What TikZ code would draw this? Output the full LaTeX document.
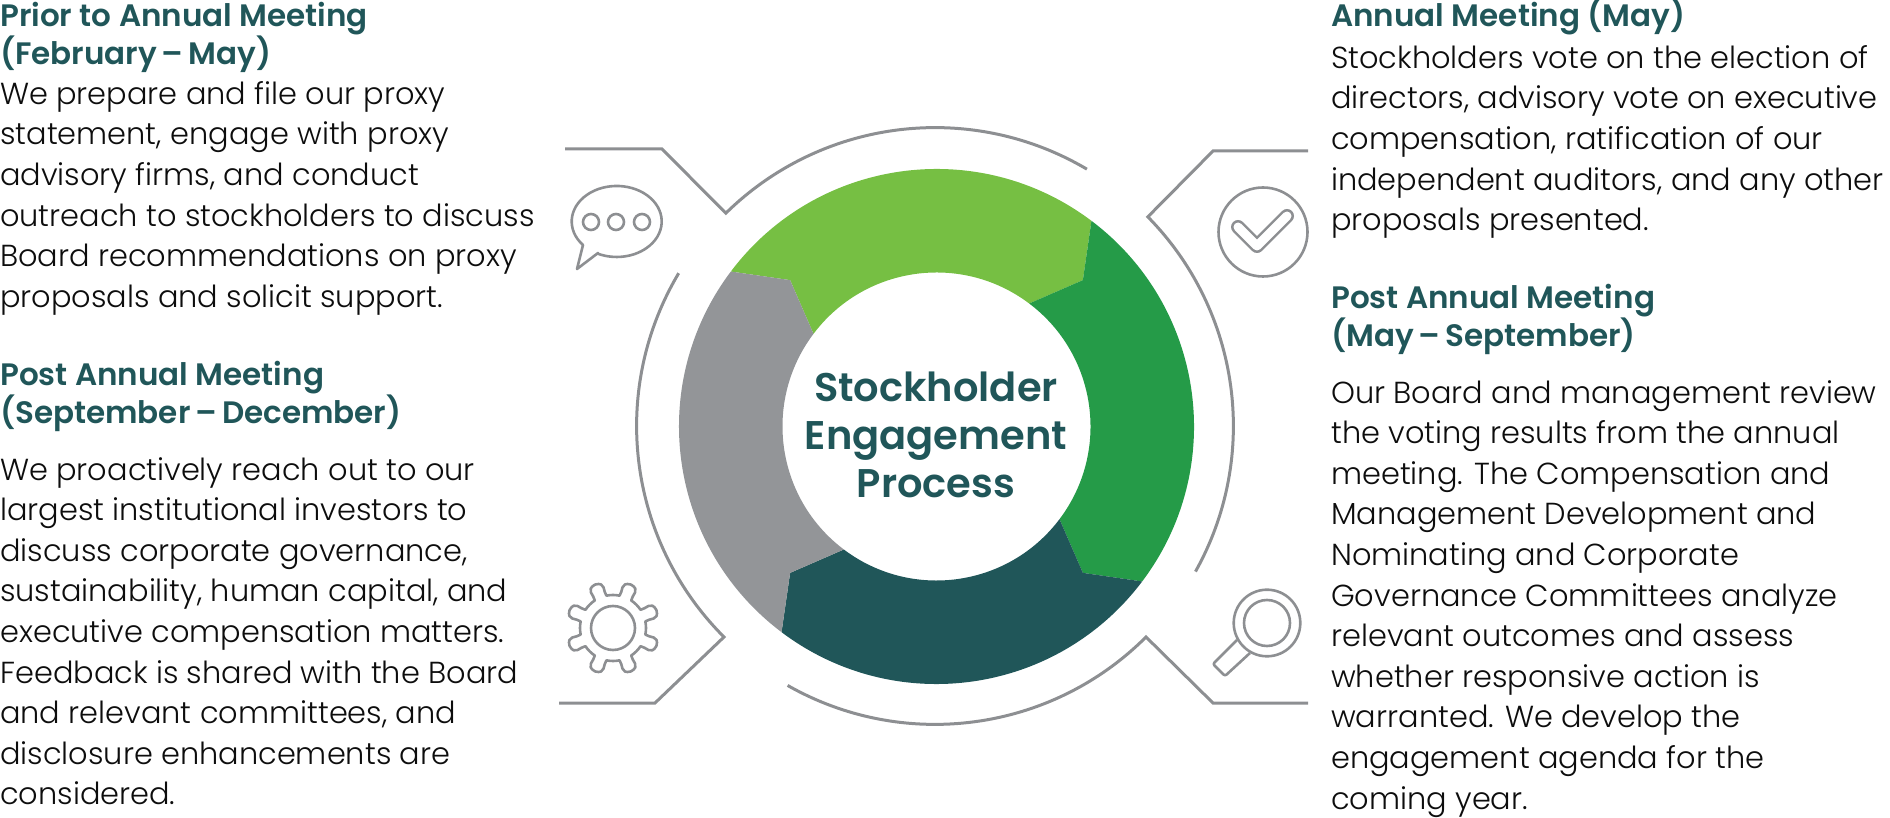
\documentclass[tikz,border=0pt]{standalone}
\usepackage{fontspec}
\usepackage{xcolor}
\setmainfont{Poppins Light}[BoldFont=Poppins SemiBold]
\usetikzlibrary{calc}
\definecolor{ringlime}{HTML}{76BF43}
\definecolor{ringgreen}{HTML}{259B48}
\definecolor{ringteal}{HTML}{205659}
\definecolor{ringgray}{HTML}{939598}
\definecolor{linegray}{HTML}{8D8F92}
\newcommand{\spandash}{\kern-2.5pt–\kern-2.5pt}
\tikzset{
  bodytext/.style={anchor=north west, inner sep=0pt, align=left, text=black!95, font=\fontsize{30.4}{40.6}\selectfont},
  headtext/.style={anchor=north west, inner sep=0pt, align=left, text=ringteal, font=\fontsize{31}{36.8}\selectfont\bfseries},
  outline/.style={draw=linegray, line width=3pt, line join=miter},
  iconline/.style={draw=linegray, line width=2.6pt, line join=round}
}
\begin{document}
\begin{tikzpicture}[x=1pt, y=1pt]
      \useasboundingbox (0,0) rectangle (1890,817);
      \coordinate (ringc) at (936.5,390.5);
      \coordinate (framec) at (935,391);
      \coordinate (gearc) at (613,189);

      % Ring
      \fill[ringlime] ($(ringc)+(143:257.5)$) arc[start angle=143, end angle=53, radius=257.5] -- ($(ringc)+(45:207)$) -- ($(ringc)+(53:154)$) arc[start angle=53, end angle=143, radius=154] -- ($(ringc)+(135:207)$) -- cycle;
      \fill[ringgreen] ($(ringc)+(53:257.5)$) arc[start angle=53, end angle=-37, radius=257.5] -- ($(ringc)+(-45:207)$) -- ($(ringc)+(-37:154)$) arc[start angle=-37, end angle=53, radius=154] -- ($(ringc)+(45:207)$) -- cycle;
      \fill[ringteal] ($(ringc)+(-37:257.5)$) arc[start angle=-37, end angle=-127, radius=257.5] -- ($(ringc)+(-135:207)$) -- ($(ringc)+(-127:154)$) arc[start angle=-127, end angle=-37, radius=154] -- ($(ringc)+(-45:207)$) -- cycle;
      \fill[ringgray] ($(ringc)+(-127:257.5)$) arc[start angle=233, end angle=143, radius=257.5] -- ($(ringc)+(135:207)$) -- ($(ringc)+(143:154)$) arc[start angle=143, end angle=233, radius=154] -- ($(ringc)+(225:207)$) -- cycle;
      \node[align=center, inner sep=0pt, text=ringteal, font=\fontsize{40}{48}\selectfont\bfseries] (ringtitle) at (936,382) {Stockholder\\Engagement\\Process};

      % Frame
      \draw[outline] (565,668) -- (662,668) -- ($(framec)+(134.5:298.4)$) arc[start angle=134.5, end angle=59.4, radius=298.4];
      \draw[outline] (1308,666) -- (1213,666) -- ($(framec)+(44.5:298.4)$) arc[start angle=44.5, end angle=-29.2, radius=298.4];
      \draw[outline] (1308,114) -- (1213,114) -- ($(framec)+(-45:298.4)$) arc[start angle=-45, end angle=-119.6, radius=298.4];
      \draw[outline] (559,114) -- (655,114) -- ($(framec)+(225:298.4)$) arc[start angle=225, end angle=149.2, radius=298.4];

      % Bubble
      \draw[iconline] (583,572) arc[start angle=221.5, end angle=-114.6, x radius=45, y radius=35.5] -- (598,564) -- (577,548) -- cycle;
      \draw[iconline] (591,595) circle (8);
      \draw[iconline] (616,595) circle (8);
      \draw[iconline] (642,595) circle (8);

      % Check
      \draw[iconline] (1263,585) circle (44.5);
      \draw[line cap=round, line join=round, draw=linegray, line width=14pt] (1238,590) -- (1257,571) -- (1287,601);
      \draw[line cap=round, line join=round, draw=white, line width=9pt] (1238,590) -- (1257,571) -- (1287,601);

      % Gear
      \draw[iconline] ($(gearc)+(11.5:33)$) \foreach \a in {22.5,67.5,...,337.5} { .. controls ($(gearc)+(\a-7:38)$) and ($(gearc)+(\a-14:47)$) .. ($(gearc)+(\a:47)$) .. controls ($(gearc)+(\a+14:47)$) and ($(gearc)+(\a+7:38)$) .. ($(gearc)+(\a+11:33)$) arc[start angle=\a+11, end angle=\a+34, radius=33] } -- cycle;
      \draw[iconline] (gearc) circle (22);

      % Magnifier
      \draw[iconline] (1267,194) circle (33.3);
      \draw[iconline] (1267,194) circle (23);
      \draw[iconline, rounded corners=2pt] (1237,177) -- (1213,153) -- (1225,141) -- (1250,164);

      % Left column
      \node[headtext] (priorhead) at (0,815) {Prior to Annual Meeting\\(February \spandash{} May)};
      \node[bodytext] (priorbody) at (0,736) {We prepare and file our proxy\\statement, engage with proxy\\advisory firms, and conduct\\outreach to stockholders to discuss\\Board recommendations on proxy\\proposals and solicit support.};
      \node[headtext] (lateyearhead) at (0,456) {Post Annual Meeting\\(September \spandash{} December)};
      \node[bodytext] (lateyearbody) at (0,360) {We proactively reach out to our\\largest institutional investors to\\discuss corporate governance,\\sustainability, human capital, and\\executive compensation matters.\\Feedback is shared with the Board\\and relevant committees, and\\disclosure enhancements are\\considered.};

      % Right column
      \node[headtext] (meethead) at (1331,819) {Annual Meeting (May)};
      \node[bodytext] (meetbody) at (1331,772) {Stockholders vote on the election of\\directors, advisory vote on executive\\compensation, ratification of our\\independent auditors, and any other\\proposals presented.};
      \node[headtext] (posthead) at (1331,533) {Post Annual Meeting\\(May \spandash{} September)};
      \node[bodytext] (postbody) at (1331,437) {Our Board and management review\\the voting results from the annual\\meeting. The Compensation and\\Management Development and\\Nominating and Corporate\\Governance Committees analyze\\relevant outcomes and assess\\whether responsive action is\\warranted. We develop the\\engagement agenda for the\\coming year.};
    \end{tikzpicture}
\end{document}
